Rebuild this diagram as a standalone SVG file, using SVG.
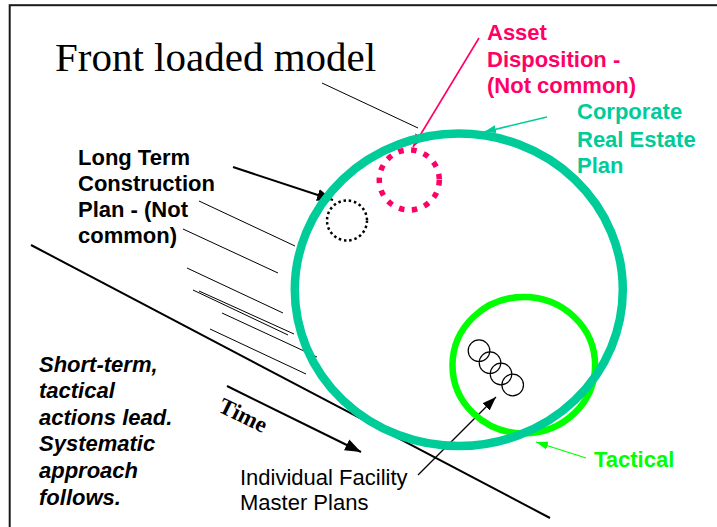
<svg xmlns="http://www.w3.org/2000/svg" width="717" height="527" viewBox="0 0 717 527">
  <style>
    .lbl { font-family: "Liberation Sans", Arial, sans-serif; font-size: 22px; font-weight: bold; }
    .plain { font-family: "Liberation Sans", Arial, sans-serif; font-size: 22px; }
    .hatch { stroke: #000; stroke-width: 1; fill: none; }
    .teal { fill: #00CC99; }
    .pink { fill: #FF0066; }
    .lime { fill: #00FF00; }
  </style>
  <defs>
    <marker id="arrBlack" markerUnits="userSpaceOnUse" orient="auto" markerWidth="20" markerHeight="16" refX="16" refY="6" viewBox="0 0 20 12">
      <path d="M0,0 L16,6 L0,12 Z" fill="#000"/>
    </marker>
    <marker id="arrBlackSm" markerUnits="userSpaceOnUse" orient="auto" markerWidth="16" markerHeight="12" refX="14" refY="5" viewBox="0 0 16 10">
      <path d="M0,0 L14,5 L0,10 Z" fill="#000"/>
    </marker>
    <marker id="arrPink" markerUnits="userSpaceOnUse" orient="auto" markerWidth="16" markerHeight="12" refX="13" refY="5" viewBox="0 0 16 10">
      <path d="M0,0 L13,5 L0,10 Z" fill="#FF0066"/>
    </marker>
    <marker id="arrTeal" markerUnits="userSpaceOnUse" orient="auto" markerWidth="14" markerHeight="10" refX="12" refY="4" viewBox="0 0 14 8">
      <path d="M0,0 L12,4 L0,8 Z" fill="#00CC99"/>
    </marker>
    <marker id="arrLime" markerUnits="userSpaceOnUse" orient="auto" markerWidth="14" markerHeight="10" refX="12" refY="4" viewBox="0 0 14 8">
      <path d="M0,0 L12,4 L0,8 Z" fill="#00FF00"/>
    </marker>
  </defs>

  <rect width="717" height="527" fill="#fff"/>
  <!-- frame -->
  <rect x="9.7" y="5.2" width="800" height="600" fill="none" stroke="#1a1a1a" stroke-width="2"/>

  <!-- title -->
  <text x="55" y="71" font-family="'Liberation Serif', 'Times New Roman', serif" font-size="41">Front loaded model</text>

  <!-- time axis and hatching -->
  <g id="connectors">
    <line x1="31" y1="245" x2="550" y2="518" stroke="#000" stroke-width="2"/>
    <line x1="227" y1="386" x2="361" y2="452" stroke="#000" stroke-width="2" marker-end="url(#arrBlack)"/>

    <line class="hatch" x1="322" y1="83" x2="418" y2="128"/>
    <line class="hatch" x1="199" y1="201" x2="295" y2="246"/>
    <line class="hatch" x1="183" y1="229" x2="278" y2="273"/>
    <line class="hatch" x1="187" y1="268" x2="283" y2="313"/>
    <line class="hatch" x1="193" y1="290" x2="288" y2="335"/>
    <line class="hatch" x1="199" y1="291" x2="294" y2="334"/>
    <line class="hatch" x1="222" y1="313" x2="317" y2="357"/>
    <line class="hatch" x1="210" y1="329" x2="306" y2="374"/>

    <line x1="233" y1="167" x2="333" y2="200" stroke="#000" stroke-width="2" marker-end="url(#arrBlack)"/>
    <line x1="479" y1="38" x2="413" y2="147" stroke="#FF0066" stroke-width="1.6" marker-end="url(#arrPink)"/>
    <line x1="547" y1="117" x2="484" y2="132" stroke="#00CC99" stroke-width="1.6" marker-end="url(#arrTeal)"/>
    <line x1="586" y1="458" x2="536" y2="442" stroke="#00FF00" stroke-width="1.3" marker-end="url(#arrLime)"/>
    <line x1="418" y1="475" x2="496" y2="397" stroke="#000" stroke-width="1.2" marker-end="url(#arrBlackSm)"/>
  </g>

  <text x="217" y="411" transform="rotate(26 217 411)" font-family="'Liberation Serif', 'Times New Roman', serif" font-size="23" font-weight="bold">Time</text>

  <!-- tactical circle -->
  <g id="tactical">
    <ellipse cx="523.8" cy="365.2" rx="71.3" ry="68.2" fill="none" stroke="#00FF00" stroke-width="6.5"/>
    <text class="lbl lime" x="594" y="467">Tactical</text>
  </g>

  <!-- corporate real estate plan circle -->
  <g id="corporate">
    <ellipse cx="458.8" cy="289.8" rx="164" ry="156.2" fill="none" stroke="#00CC99" stroke-width="8.5"/>
    <text class="lbl teal" x="577" y="119">Corporate</text>
    <text class="lbl teal" x="577" y="146.5">Real Estate</text>
    <text class="lbl teal" x="577" y="173">Plan</text>
  </g>

  <g id="asset-disposition">
    <circle cx="409.3" cy="180" r="30" fill="none" stroke="#FF0066" stroke-width="5.5" stroke-dasharray="5.5 7.5"/>
    <text class="lbl pink" x="487" y="40">Asset</text>
    <text class="lbl pink" x="487" y="67">Disposition -</text>
    <text class="lbl pink" x="487" y="93">(Not common)</text>
  </g>

  <g id="long-term">
    <circle cx="347" cy="220.5" r="20" fill="none" stroke="#000" stroke-width="2.5" stroke-dasharray="2.5 2.8"/>
    <text class="lbl" x="78" y="165">Long Term</text>
    <text class="lbl" x="78" y="191">Construction</text>
    <text class="lbl" x="78" y="217">Plan - (Not</text>
    <text class="lbl" x="78" y="243">common)</text>
  </g>

  <g id="facility-plans" fill="none" stroke="#000" stroke-width="1.2">
    <circle cx="479" cy="350.7" r="10.8"/>
    <circle cx="490" cy="362.7" r="10.8"/>
    <circle cx="501" cy="374" r="10.8"/>
    <circle cx="512.7" cy="385" r="10.8"/>
  </g>
  <g id="facility-label">
    <text class="plain" x="240" y="485">Individual Facility</text>
    <text class="plain" x="240" y="510">Master Plans</text>
  </g>

  <g id="note" font-family="'Liberation Sans', Arial, sans-serif" font-size="22" font-weight="bold" font-style="italic">
    <text x="39" y="372">Short-term,</text>
    <text x="39" y="398">tactical</text>
    <text x="39" y="425">actions lead.</text>
    <text x="39" y="451">Systematic</text>
    <text x="39" y="478">approach</text>
    <text x="39" y="505">follows.</text>
  </g>
</svg>
